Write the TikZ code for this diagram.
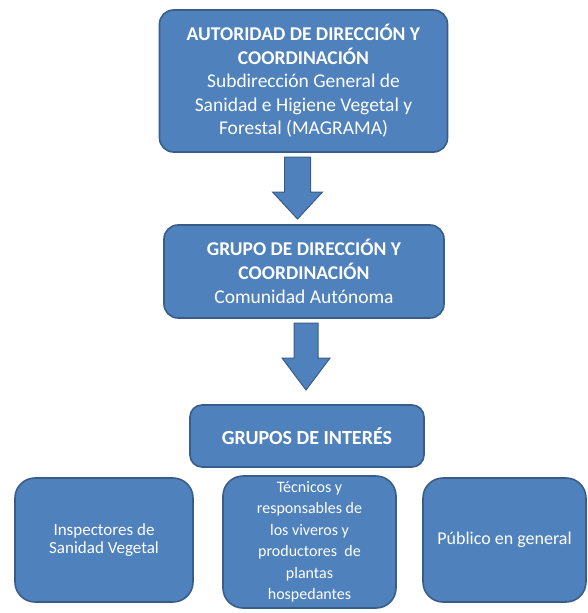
\documentclass[tikz,border=0pt]{standalone}
\usepackage{fontspec}
\setmainfont{Carlito}
\definecolor{boxblue}{HTML}{4F81BD}
\definecolor{boxedge}{HTML}{385D8A}
\begin{document}
\begin{tikzpicture}[x=1pt,y=-1pt,
  blk/.style={draw=boxedge, line width=1.6pt, fill=boxblue, rounded corners=14pt, text=white, align=center, inner sep=0pt},
  arr/.style={fill=boxblue, draw=boxedge, line width=1pt, line join=miter}]
\useasboundingbox (0,0) rectangle (588,613);
\node[blk, minimum width=288pt, minimum height=142pt,
  font=\fontsize{19.5}{23.5}\selectfont] (top) at (303.5,81)
  {\textbf{AUTORIDAD DE DIRECCIÓN Y}\\ \textbf{COORDINACIÓN}\\ Subdirección General de\\ Sanidad e Higiene Vegetal y\\ Forestal (MAGRAMA)};
\node[blk, minimum width=280pt, minimum height=93pt,
  font=\fontsize{19.5}{24}\selectfont] (mid) at (304,271.5)
  {\textbf{GRUPO DE DIRECCIÓN Y}\\ \textbf{COORDINACIÓN}\\ Comunidad Autónoma};
\node[blk, minimum width=234pt, minimum height=62pt, rounded corners=12pt,
  font=\fontsize{20}{20}\selectfont\bfseries] (gi) at (307,436) {GRUPOS DE INTERÉS};
\node[blk, minimum width=178pt, minimum height=124pt, rounded corners=20pt,
  font=\fontsize{17}{18}\selectfont] (b1) at (104,540) {\raisebox{-4pt}{\shortstack{Inspectores de\\ Sanidad Vegetal}}};
\node[blk, minimum width=173pt, minimum height=132pt, rounded corners=20pt,
  font=\fontsize{16}{21.5}\selectfont] (b2) at (309.5,542) {Técnicos y\\ responsables de\\ los viveros y\\ productores~ de\\ plantas\\ hospedantes};
\node[blk, minimum width=163pt, minimum height=124pt, rounded corners=20pt,
  font=\fontsize{18}{18}\selectfont] (b3) at (504.5,540) {\raisebox{-6pt}{Público en general}};
% block arrows
\coordinate (a1) at (297.5,157);
\draw[arr] (a1) ++(-13,0) -- ++(0,35) -- ++(-12,0) -- ++(25,27) -- ++(25,-27)
  -- ++(-12,0) -- ++(0,-35) -- cycle;
\coordinate (a2) at (306,323);
\draw[arr] (a2) ++(-12,0) -- ++(0,35) -- ++(-12,0) -- ++(24,32) -- ++(24,-32)
  -- ++(-12,0) -- ++(0,-35) -- cycle;
\end{tikzpicture}
\end{document}
